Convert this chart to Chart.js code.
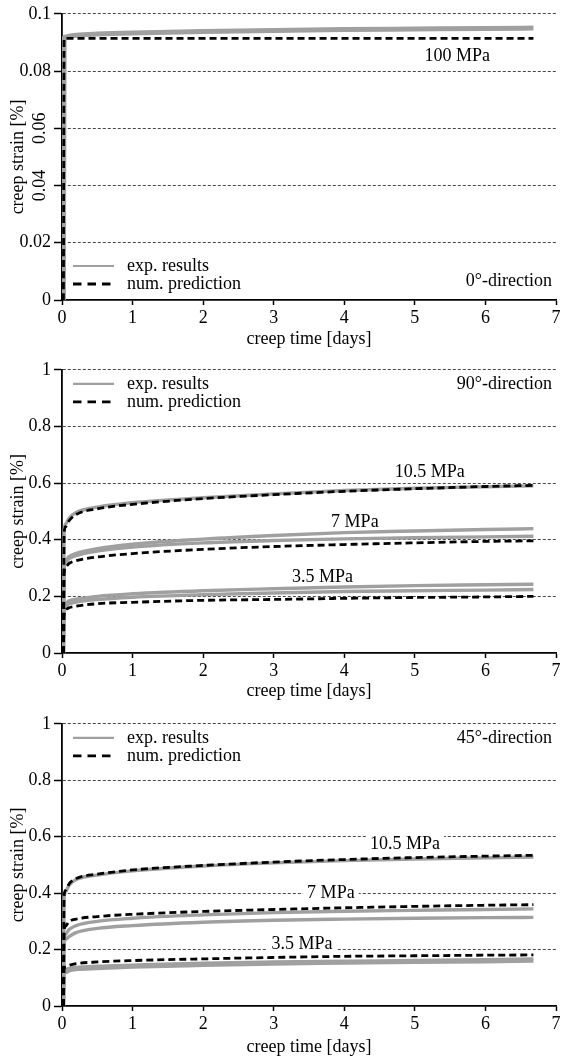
<!DOCTYPE html>
<html>
<head>
<meta charset="utf-8">
<title>creep strain</title>
<script src="https://cdn.jsdelivr.net/npm/chart.js@4.4.0/dist/chart.umd.min.js"></script>
<style>
  body { margin: 0; background: #fff; width: 563px; height: 1059px; overflow: hidden; position: relative; }
  canvas { position: absolute; left: 0; }
</style>
</head>
<body>
<canvas id="c0" width="563" height="356" style="top:0px"></canvas>
<canvas id="c90" width="563" height="354" style="top:356px"></canvas>
<canvas id="c45" width="563" height="349" style="top:710px"></canvas>
<script>
// creep time [days] of the read points
var times = [0.02, 0.03, 0.05, 0.1, 0.2, 0.5, 1, 2, 3, 4, 5, 6, 6.68];
var xTicks = [0, 1, 2, 3, 4, 5, 6, 7];

// 0 deg, 100 MPa
var exp0_100 = [0, 0.0916, 0.0919, 0.0922, 0.0925, 0.0929, 0.0933, 0.0938, 0.0942, 0.0945, 0.0947, 0.0949, 0.0950];
var num0_100 = [0, 0.0914, 0.0914, 0.0914, 0.0914, 0.0914, 0.0914, 0.0914, 0.0914, 0.0914, 0.0914, 0.0914, 0.0914];

// 90 deg
var exp90_105 = [0, 0.43, 0.455, 0.476, 0.496, 0.515, 0.531, 0.548, 0.562, 0.574, 0.582, 0.587, 0.590];
var num90_105 = [0, 0.42, 0.446, 0.467, 0.489, 0.509, 0.525, 0.545, 0.559, 0.571, 0.580, 0.588, 0.592];
var exp90_7a  = [0, 0.31, 0.328, 0.340, 0.352, 0.368, 0.384, 0.402, 0.415, 0.425, 0.431, 0.436, 0.439];
var exp90_7b  = [0, 0.30, 0.320, 0.333, 0.344, 0.360, 0.374, 0.389, 0.397, 0.403, 0.407, 0.410, 0.412];
var num90_7   = [0, 0.28, 0.303, 0.316, 0.326, 0.339, 0.351, 0.366, 0.376, 0.383, 0.389, 0.394, 0.396];
var exp90_35a = [0, 0.165, 0.176, 0.184, 0.190, 0.200, 0.209, 0.220, 0.227, 0.233, 0.238, 0.241, 0.243];
var exp90_35b = [0, 0.158, 0.166, 0.174, 0.180, 0.189, 0.197, 0.206, 0.212, 0.217, 0.220, 0.222, 0.224];
var num90_35  = [0, 0.13, 0.152, 0.160, 0.165, 0.174, 0.179, 0.186, 0.189, 0.193, 0.196, 0.198, 0.200];

// 45 deg
var exp45_105 = [0, 0.385, 0.405, 0.428, 0.448, 0.464, 0.479, 0.496, 0.507, 0.515, 0.521, 0.525, 0.528];
var num45_105 = [0, 0.39, 0.41, 0.433, 0.452, 0.467, 0.482, 0.498, 0.510, 0.519, 0.526, 0.531, 0.534];
var exp45_7a  = [0, 0.24, 0.254, 0.271, 0.285, 0.300, 0.311, 0.323, 0.331, 0.336, 0.339, 0.342, 0.344];
var exp45_7b  = [0, 0.225, 0.236, 0.246, 0.260, 0.275, 0.285, 0.297, 0.304, 0.308, 0.311, 0.313, 0.314];
var num45_7   = [0, 0.265, 0.283, 0.299, 0.308, 0.317, 0.325, 0.335, 0.342, 0.348, 0.353, 0.357, 0.359];
var exp45_35a = [0, 0.12, 0.127, 0.133, 0.137, 0.141, 0.145, 0.152, 0.156, 0.159, 0.161, 0.164, 0.167];
var exp45_35b = [0, 0.112, 0.118, 0.124, 0.129, 0.133, 0.138, 0.144, 0.149, 0.152, 0.155, 0.157, 0.159];
var num45_35  = [0, 0.13, 0.138, 0.144, 0.150, 0.156, 0.161, 0.167, 0.172, 0.176, 0.178, 0.180, 0.181];

var stressLabels = ['10.5 MPa', '7 MPa', '3.5 MPa'];
var legendLabels = ['exp. results', 'num. prediction'];

var FONT = '"Liberation Serif", "Times New Roman", serif';
var FS = 18;
var GRAY = '#a0a0a0';

function pts(vals) {
  return vals.map(function (v, i) { return {x: times[i], y: v}; });
}
function expSet(vals, w) {
  return {data: pts(vals), borderColor: GRAY, borderWidth: w || 3.4, pointRadius: 0,
          cubicInterpolationMode: 'monotone', order: 2, fill: false};
}
function numSet(vals) {
  return {data: pts(vals), borderColor: '#000', borderWidth: 2.8, borderDash: [7, 4], pointRadius: 0,
          cubicInterpolationMode: 'monotone', order: 1, fill: false};
}

var extras = {
  id: 'extras',
  beforeDatasetsDraw: function (chart, args, o) {
    var ctx = chart.ctx, xs = chart.scales.x, ys = chart.scales.y;
    ctx.save();
    ctx.font = FS + 'px ' + FONT;
    ctx.textAlign = 'center';
    ctx.textBaseline = 'middle';
    (o.notes || []).forEach(function (n) {
      var px = xs.getPixelForValue(n.x), py = ys.getPixelForValue(n.y);
      var w = ctx.measureText(n.text).width;
      ctx.fillStyle = '#fff';
      ctx.fillRect(px - w / 2 - 4, py - 10, w + 8, 20);
      ctx.fillStyle = '#000';
      ctx.fillText(n.text, px, py);
    });
    ctx.restore();
  },
  afterDraw: function (chart, args, o) {
    var ctx = chart.ctx, a = chart.chartArea, ys = chart.scales.y;
    ctx.save();
    ctx.font = FS + 'px ' + FONT;
    ctx.textBaseline = 'middle';
    var r1, r2;
    if (o.legendBottom) { r1 = a.bottom - 34; r2 = a.bottom - 16; }
    else { r1 = a.top + 14; r2 = a.top + 32; }
    // legend samples
    ctx.lineWidth = 2.2;
    ctx.strokeStyle = GRAY;
    ctx.beginPath(); ctx.moveTo(a.left + 11, r1); ctx.lineTo(a.left + 52, r1); ctx.stroke();
    ctx.strokeStyle = '#000';
    ctx.lineWidth = 2.8;
    ctx.setLineDash([8.5, 6]);
    ctx.beginPath(); ctx.moveTo(a.left + 11, r2); ctx.lineTo(a.left + 52, r2); ctx.stroke();
    ctx.setLineDash([]);
    ctx.fillStyle = '#000';
    ctx.textAlign = 'left';
    ctx.fillText(legendLabels[0], a.left + 65, r1);
    ctx.fillText(legendLabels[1], a.left + 65, r2);
    // direction
    ctx.textAlign = 'right';
    ctx.fillText(o.direction, a.right - 4, o.legendBottom ? a.bottom - 19 : r1);
    // rotated tick labels
    (o.rotTicks || []).forEach(function (v) {
      ctx.save();
      ctx.translate(40, ys.getPixelForValue(v));
      ctx.rotate(-Math.PI / 2);
      ctx.textAlign = 'center';
      ctx.fillText(String(v), 0, 0);
      ctx.restore();
    });
    ctx.restore();
  }
};

function makePanel(id, cfg) {
  return new Chart(document.getElementById(id), {
    type: 'line',
    data: {datasets: cfg.datasets},
    plugins: [extras],
    options: {
      responsive: false,
      animation: false,
      layout: {padding: {top: cfg.padTop, right: 7, left: 0, bottom: 0}},
      plugins: {
        legend: {display: false},
        tooltip: {enabled: false},
        extras: {notes: cfg.notes, direction: cfg.direction, legendBottom: cfg.legendBottom, rotTicks: cfg.rotTicks}
      },
      scales: {
        x: {
          type: 'linear', min: 0, max: 7,
          afterFit: function (s) { s.height = cfg.xHeight; },
          afterBuildTicks: function (s) { s.ticks = xTicks.map(function (v) { return {value: v}; }); },
          ticks: {color: '#000', font: {family: FONT, size: FS}, padding: 2, maxRotation: 0},
          grid: {drawOnChartArea: false, drawTicks: true, tickLength: 5, tickColor: '#000', tickWidth: 1.5},
          border: {display: true, color: '#000', width: 1.8},
          title: {display: true, text: 'creep time [days]', color: '#000',
                  font: {family: FONT, size: FS, lineHeight: 1.2}, padding: {top: 0, bottom: cfg.titlePad}}
        },
        y: {
          type: 'linear', min: 0, max: cfg.yMax,
          afterFit: function (s) { s.width = 62; },
          ticks: {
            stepSize: cfg.yStep, color: '#000', font: {family: FONT, size: FS}, padding: 3,
            callback: function (v) {
              var r = +v.toFixed(2);
              if ((cfg.rotTicks || []).indexOf(r) >= 0) return '';
              return String(r);
            }
          },
          grid: {
            drawOnChartArea: true, drawTicks: true, tickLength: 8, tickColor: '#000', tickWidth: 1.5,
            tickBorderDash: [],
            color: function (c) { return c.tick && c.tick.value === 0 ? 'rgba(0,0,0,0)' : '#333'; },
            lineWidth: 0.9
          },
          border: {display: true, color: '#000', width: 1.8, dash: [3, 2]},
          title: {display: true, text: 'creep strain [%]', color: '#000',
                  font: {family: FONT, size: FS, lineHeight: 1.2}, padding: {top: 7, bottom: 0}}
        }
      }
    }
  });
}

makePanel('c0', {
  padTop: 11, xHeight: 56, titlePad: 6, yMax: 0.1, yStep: 0.02,
  direction: '0°-direction', legendBottom: true, rotTicks: [0.04, 0.06],
  notes: [{text: '100 MPa', x: 5.6, y: 0.0851}],
  datasets: [expSet(exp0_100, 5), numSet(num0_100)]
});

makePanel('c90', {
  padTop: 8, xHeight: 57, titlePad: 8, yMax: 1, yStep: 0.2,
  direction: '90°-direction', legendBottom: false,
  notes: [{text: stressLabels[0], x: 5.21, y: 0.637},
          {text: stressLabels[1], x: 4.15, y: 0.46},
          {text: stressLabels[2], x: 3.69, y: 0.266}],
  datasets: [expSet(exp90_105), expSet(exp90_7a), expSet(exp90_7b), expSet(exp90_35a), expSet(exp90_35b),
             numSet(num90_105), numSet(num90_7), numSet(num90_35)]
});

makePanel('c45', {
  padTop: 7, xHeight: 53, titlePad: 1, yMax: 1, yStep: 0.2,
  direction: '45°-direction', legendBottom: false,
  notes: [{text: stressLabels[0], x: 4.86, y: 0.574},
          {text: stressLabels[1], x: 3.81, y: 0.398},
          {text: stressLabels[2], x: 3.40, y: 0.217}],
  datasets: [expSet(exp45_105), expSet(exp45_7a), expSet(exp45_7b), expSet(exp45_35a), expSet(exp45_35b),
             numSet(num45_105), numSet(num45_7), numSet(num45_35)]
});
</script>
</body>
</html>
